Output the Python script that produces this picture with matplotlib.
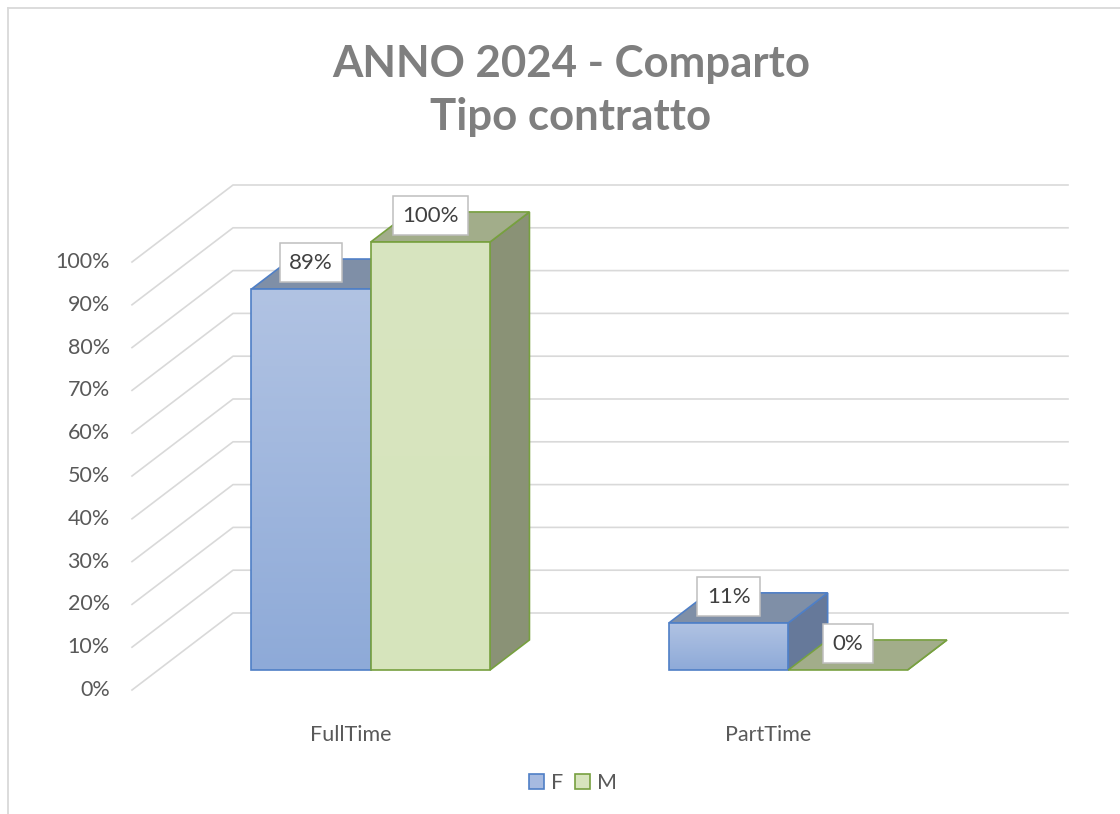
import numpy as np
import matplotlib.pyplot as plt
from matplotlib.patches import Polygon, Patch
from matplotlib.lines import Line2D
from matplotlib.colors import LinearSegmentedColormap

plt.rcParams['font.family'] = ['Lato', 'DejaVu Sans']

categories = ['FullTime', 'PartTime']
series = ['F', 'M']
values_f = [0.89, 0.11]
values_m = [1.00, 0.00]
ticks = np.arange(0, 1.01, 0.1)
tick_labels = [f'{int(round(t * 100))}%' for t in ticks]

W, H = 1120, 814
fig = plt.figure(figsize=(W / 100, H / 100), dpi=100)
ax = fig.add_axes([0, 0, 1, 1])
ax.axis('off')

# front plane: 1 category = 417.5 px, 100% = 428 px
sx, sy = 417.5, 428.0
ax.set_xlim(-132 / sx, (W - 132) / sx)
ax.set_ylim(-(H - 690) / sy, 690 / sy)

# depth direction (floor front edge -> back wall)
DX, DY = 101 / sx, 77 / sy
T0, T1 = 0.26, 0.65
bw = 1 / 3.5


def P(x, v, t):
    return (x + t * DX, v + t * DY)


# back wall gridlines
grid_c = '#d9d9d9'
for v in ticks:
    pts = [P(0, v, 0), P(0, v, 1), P(len(categories), v, 1)]
    ax.add_line(Line2D([p[0] for p in pts], [p[1] for p in pts],
                       color=grid_c, lw=1.2, zorder=1))

for v, lab in zip(ticks, tick_labels):
    ax.annotate(lab, xy=P(0, v, 0), xytext=(-16, 0), textcoords='offset points',
                ha='right', va='center', fontsize=15.5, color='#595959')

for i, cat in enumerate(categories):
    ax.annotate(cat, xy=P(i + 0.5, 0, 0.1), xytext=(0, -38), textcoords='offset points',
                ha='center', va='center', fontsize=15.5, color='#595959')

styles = {
    'F': dict(front=('#8eaad8', '#b1c3e3'), top='#7f8fa7', side='#66799a', edge='#4f7fc6'),
    'M': dict(front=('#d6e4bc', '#d8e5c0'), top='#a2ad8a', side='#8a9276', edge='#77a03f'),
}


def draw_bar(x0, v, st, z):
    a, b = P(x0, 0, T0), P(x0 + bw, 0, T0)
    c, d = P(x0 + bw, v, T0), P(x0, v, T0)
    b2, c2, d2 = P(x0 + bw, 0, T1), P(x0 + bw, v, T1), P(x0, v, T1)
    kw = dict(ec=st['edge'], lw=1.2, joinstyle='miter')
    ax.add_patch(Polygon([b, b2, c2, c], closed=True, fc=st['side'], zorder=z, **kw))
    ax.add_patch(Polygon([d, c, c2, d2], closed=True, fc=st['top'], zorder=z, **kw))
    if v > 0:
        front = Polygon([a, b, c, d], closed=True, fc='none', zorder=z + 0.2, **kw)
        ax.add_patch(front)
        cmap = LinearSegmentedColormap.from_list('g', list(st['front']))
        im = ax.imshow(np.linspace(0, 1, 256).reshape(-1, 1), cmap=cmap, origin='lower',
                       extent=[a[0], b[0], a[1], d[1]], aspect='auto', zorder=z + 0.1)
        im.set_clip_path(front)
    ax.annotate(f'{int(round(v * 100))}%', xy=P(x0 + bw / 2, v, T0), xytext=(0, 19),
                textcoords='offset points', ha='center', va='center', fontsize=16,
                color='#404040', zorder=20,
                bbox=dict(boxstyle='square,pad=0.42', fc='white', ec='#bfbfbf', lw=1.1))


# small shift of the bar groups to the right, as Excel draws them
shift = 0.009
z = 2
for i in range(len(categories)):
    draw_bar(i + 0.5 - bw + shift, values_f[i], styles['F'], z)
    draw_bar(i + 0.5 + shift, values_m[i], styles['M'], z + 1)
    z += 2

ax.set_xlim(-132 / sx, (W - 132) / sx)
ax.set_ylim(-(H - 690) / sy, 690 / sy)

# title
fig.text(571 / W, 1 - 77 / H, 'ANNO 2024 - Comparto', ha='center', va='baseline',
         fontsize=31.5, fontweight='bold', color='#7f7f7f')
fig.text(571 / W, 1 - 130 / H, 'Tipo contratto', ha='center', va='baseline',
         fontsize=31.5, fontweight='bold', color='#7f7f7f')

# legend
handles = [Patch(fc='#a6bae0', ec=styles['F']['edge'], lw=1.2, label='F'),
           Patch(fc='#d7e4bd', ec=styles['M']['edge'], lw=1.2, label='M')]
fig.legend(handles=handles, loc='center', bbox_to_anchor=(573 / W, 1 - 783 / H), ncol=2,
           frameon=False, fontsize=15.5, handlelength=0.7, handleheight=0.7,
           handletextpad=0.3, columnspacing=0.55, labelcolor='#595959')

# chart border (only left and top visible)
fig.add_artist(Line2D([7.5 / W, 7.5 / W], [0, 1 - 8 / H], color='#d9d9d9', lw=1.3))
fig.add_artist(Line2D([7.5 / W, 1], [1 - 8 / H, 1 - 8 / H], color='#d9d9d9', lw=1.3))

fig.savefig('out.png', dpi=100)
